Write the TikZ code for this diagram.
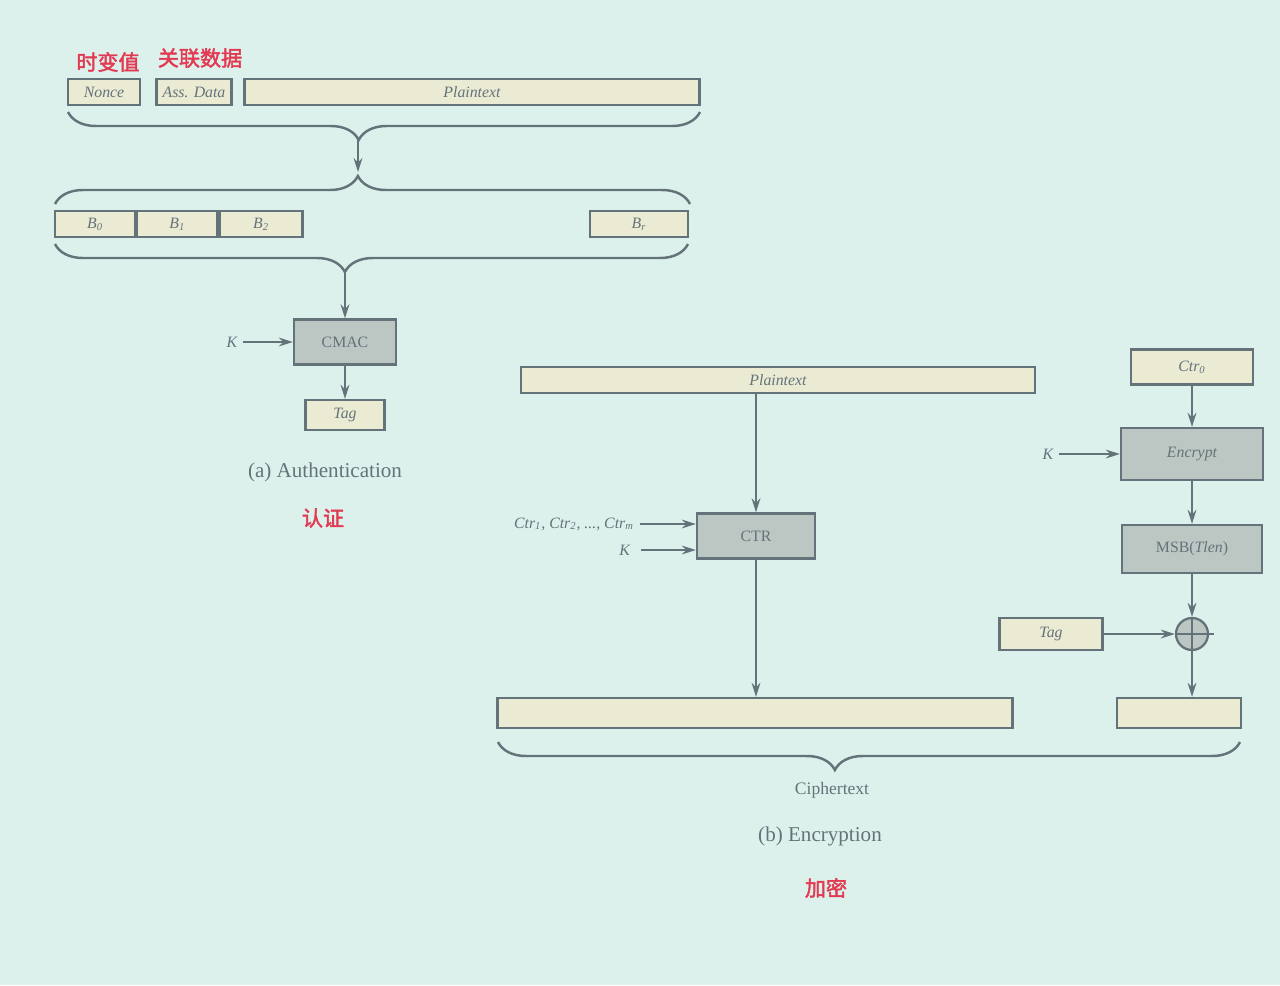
\documentclass[tikz,border=0pt]{standalone}
\usepackage{fontspec}
\setmainfont{Liberation Serif}
\newfontfamily\cjk[FakeBold=2]{Noto Sans CJK SC}
\usetikzlibrary{arrows.meta,decorations.pathreplacing}

\definecolor{slide}{HTML}{DDF1EC}
\definecolor{boxfill}{HTML}{EBEBD3}
\definecolor{opfill}{HTML}{BCC7C3}
\definecolor{ink}{HTML}{64737A}
\definecolor{redlabel}{HTML}{E23A52}

\begin{document}
\begin{tikzpicture}[x=0.02cm,y=-0.02cm,
  every node/.style={font=\itshape\small, text=ink},
  field/.style={draw=ink, fill=boxfill, line width=1.3pt, minimum height=0.52cm, inner sep=0pt},
  opbox/.style={draw=ink, fill=opfill, line width=1.3pt, minimum height=0.9cm, inner sep=0pt},
  flow/.style={draw=ink, line width=1.2pt, -{Stealth[length=8pt,width=5pt]}},
  brc/.style={draw=ink, line width=1.4pt, decorate, decoration={brace, amplitude=0.56cm, aspect=#1}},
  redtxt/.style={font=\cjk\large, text=redlabel},
  caption/.style={font=\large, text=ink}]

\useasboundingbox (0,0) rectangle (1280,985);
\fill[slide] (0,0) rectangle (1280,985);

% (a) authentication
\node[redtxt] (noncecn) at (108,62) {时变值};
\node[redtxt] (adcn) at (200,58) {关联数据};
\node[field, minimum width=1.44cm] (nonce) at (104,92) {Nonce};
\node[field, minimum width=1.5cm] (ad) at (194,92) {Ass. Data};
\node[field, minimum width=9.1cm] (pta) at (472,92) {Plaintext};

\draw[brc=0.54] (700,112) -- (68,112);
\coordinate (t1) at (358,140);
\draw[brc=0.477] (55,204) -- (690,204);
\coordinate (t2) at (358,172);
\draw[flow] (t1) -- (t2);

\node[field, minimum width=1.6cm] (b0) at (95,224) {B\textsubscript{0}};
\node[field, minimum width=1.6cm, anchor=west] (b1) at (b0.east) {B\textsubscript{1}};
\node[field, minimum width=1.66cm, anchor=west] (b2) at (b1.east) {B\textsubscript{2}};
\node[field, minimum width=1.96cm] (br) at (639,224) {B\textsubscript{r}};

\draw[brc=0.542] (688,244) -- (55,244);
\coordinate (t3) at (345,272);

\node[opbox, minimum width=2.04cm, font=\upshape\small] (cmac) at (345,342) {CMAC};
\draw[flow] (t3) -- (cmac.north);
\node (ka) at (232,342) {K};
\draw[flow] (ka) -- (cmac);
\node[field, minimum width=1.58cm, minimum height=0.6cm] (taga) at (345,415) {Tag};
\draw[flow] (cmac) -- (taga);

\node[caption] (capa) at (325,472) {(a) Authentication};
\node[redtxt] (capacn) at (323,518) {认证};

% (b) encryption
\node[field, minimum width=10.28cm] (ptb) at (778,380) {Plaintext};
\node[opbox, minimum width=2.36cm, font=\upshape\small] (ctr) at (756,536) {CTR};
\draw[flow] (ctr.north |- ptb.south) -- (ctr.north);
\node[anchor=east] (ctrs) at (640,524) {Ctr\textsubscript{1}, Ctr\textsubscript{2}, ..., Ctr\textsubscript{m}};
\draw[flow] (ctrs.east) -- (ctrs.east -| ctr.west);
\node[anchor=east] (kb) at (636,550) {K};
\draw[flow] ([xshift=3pt]kb.east) -- (kb.east -| ctr.west);

\node[field, minimum width=10.3cm, minimum height=0.6cm] (ctb) at (755,713) {};
\draw[flow] (ctr.south) -- (ctr.south |- ctb.north);

\node[field, minimum width=2.44cm, minimum height=0.7cm] (ctr0) at (1192,367) {Ctr\textsubscript{0}};
\node[opbox, minimum width=2.84cm, minimum height=1.04cm] (enc) at (1192,454) {Encrypt};
\node (kc) at (1048,454) {K};
\draw[flow] (kc) -- (enc);
\node[opbox, minimum width=2.8cm, minimum height=0.96cm, font=\upshape\small] (msb) at (1192,549) {MSB(\textit{Tlen})};
\node[circle, draw=ink, fill=opfill, line width=1.3pt, minimum size=0.64cm, inner sep=0pt] (xor) at (1192,634) {};
\draw[ink, line width=1.2pt] (xor.north) -- (xor.south) (xor.west) -- ([xshift=3pt]xor.east);
\node[field, minimum width=2.06cm, minimum height=0.64cm] (tagb) at (1051,634) {Tag};
\node[field, minimum width=2.48cm, minimum height=0.6cm] (outb) at (1179,713) {};

\draw[flow] (ctr0) -- (enc);
\draw[flow] (enc) -- (msb);
\draw[flow] (msb) -- (xor);
\draw[flow] (tagb) -- (xor);
\draw[flow] (xor) -- (xor |- outb.north);

\draw[brc=0.546] (1240,742) -- (498,742);
\node[font=\upshape] (ctlab) at (832,790) {Ciphertext};
\node[caption] (capb) at (820,836) {(b) Encryption};
\node[redtxt] (capbcn) at (826,888) {加密};
\end{tikzpicture}
\end{document}
